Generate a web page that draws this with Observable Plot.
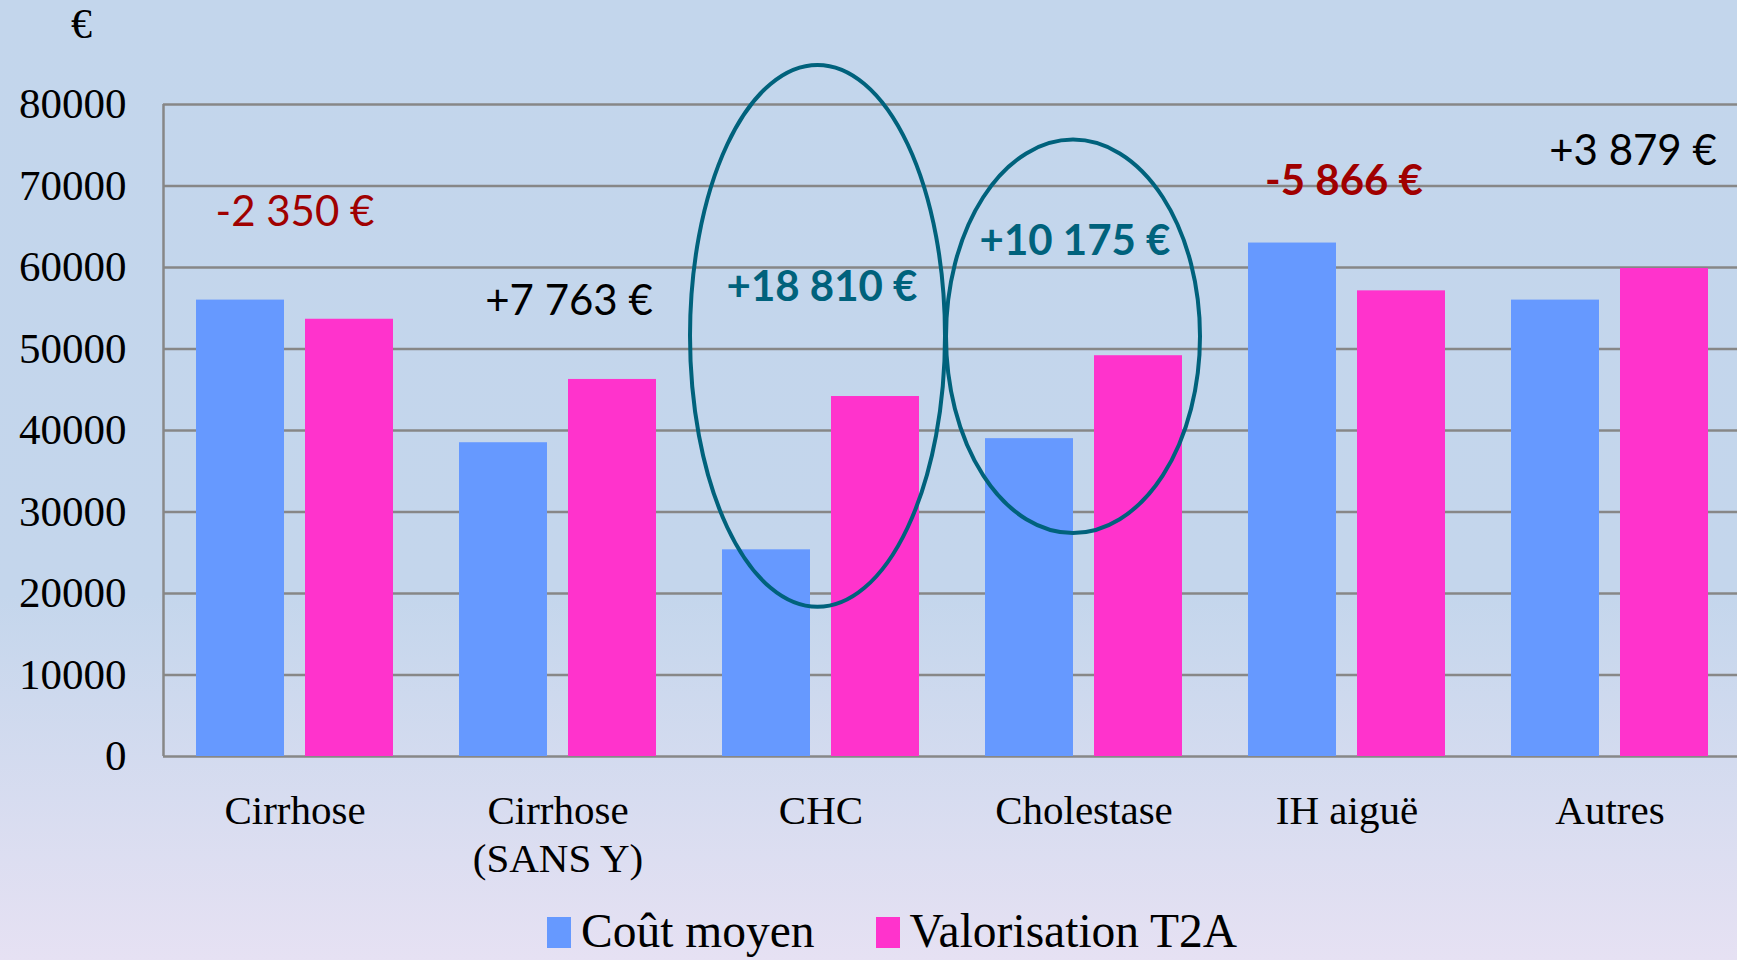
<!DOCTYPE html>
<html>
<head>
<meta charset="utf-8">
<script src="https://cdn.jsdelivr.net/npm/d3@7"></script>
<script src="https://cdn.jsdelivr.net/npm/@observablehq/plot@0.6"></script>
<style>
  html, body { margin: 0; padding: 0; }
  body {
    width: 1737px; height: 960px; overflow: hidden; color: #000;
    background: linear-gradient(to bottom, #c3d6ec 0%, #c4d6ec 62%, #e6e1f3 100%);
  }
  #chart svg { max-width: none !important; }
  #legend {
    height: 60px; display: flex; align-items: center; padding-left: 547px; padding-top: 4px; box-sizing: border-box;
    font-family: "Liberation Serif", "Times New Roman", serif; font-size: 47.5px; line-height: 1; white-space: nowrap;
  }
  #legend .item { display: flex; align-items: center; margin-right: 61px; }
  #legend .sw { display: inline-block; width: 24px; height: 31px; margin-right: 10px; }
</style>
</head>
<body>
<div id="chart"></div>
<div id="legend"></div>
<script>
// ---- data ----
const categories = ["Cirrhose", "Cirrhose\n(SANS Y)", "CHC", "Cholestase", "IH aiguë", "Autres"];
const series = ["Coût moyen", "Valorisation T2A"];
const coutMoyen = [56000, 38500, 25360, 39000, 63000, 56000];
const valorisationT2A = [53650, 46263, 44170, 49175, 57134, 59879];
const differences = [-2350, 7763, 18810, 10175, -5866, 3879];
const yTicks = [0, 10000, 20000, 30000, 40000, 50000, 60000, 70000, 80000];
const highlighted = ["CHC", "Cholestase"];

// ---- layout / style (not data) ----
const colors = ["#6699ff", "#ff33cc"];
const teal = "#00627c", darkRed = "#a00000", gridGray = "#878787";
const labelLayout = [
  {y: 66800, dx: 0,   fill: darkRed, weight: "normal"},
  {y: 55830, dx: 11,  fill: "#000",  weight: "normal"},
  {y: 57550, dx: 1,   fill: teal,    weight: "bold"},
  {y: 63130, dx: -9,  fill: teal,    weight: "bold"},
  {y: 70600, dx: -3,  fill: darkRed, weight: "bold"},
  {y: 74270, dx: 23,  fill: "#000",  weight: "normal"}
];
const ellipseLayout = [
  {y1: 18300, y2: 84800, insetLeft: 1, insetRight: 7},
  {y1: 27360, y2: 75630, insetLeft: -6, insetRight: 15}
];

const W = 1743, H = 900, mL = 161, mR = 0, mT = 104, mB = 144;
const facetW = (W - mL - mR) / categories.length;
const padInner = 0.1916, padOuter = 0.298;
const step = facetW / (series.length - padInner + 2 * padOuter);
const firstBandCenter = padOuter * step + (1 - padInner) * step / 2;
const yMax = 80000;
const k = (H - mT - mB) / yMax;

const data = categories.flatMap((c, i) => [
  {cat: c, series: series[0], value: coutMoyen[i]},
  {cat: c, series: series[1], value: valorisationT2A[i]}
]);

const fmt = d => (d > 0 ? "+" : "-") + String(Math.abs(d)).replace(/\B(?=(\d{3})+(?!\d))/g, " ") + " €";

const labelMarks = differences.map((d, i) => {
  const L = labelLayout[i];
  return Plot.text([{cat: categories[i], y: L.y, label: fmt(d)}], {
    fx: "cat", y: "y", text: "label", dx: L.dx,
    fill: L.fill, fontWeight: L.weight, fontSize: 42, fontFamily: "Lato, 'Open Sans', sans-serif"
  });
});

const ellipseMarks = highlighted.map((c, i) => {
  const E = ellipseLayout[i];
  const rx = (facetW - E.insetLeft - E.insetRight) / 2;
  const ry = (E.y2 - E.y1) * k / 2;
  return Plot.rect([{cat: c, y1: E.y1, y2: E.y2}], {
    fx: "cat", y1: "y1", y2: "y2", rx, ry,
    insetLeft: E.insetLeft, insetRight: E.insetRight,
    fill: "none", stroke: teal, strokeWidth: 4
  });
});

const chart = Plot.plot({
  width: W, height: H,
  marginLeft: mL, marginRight: mR, marginTop: mT, marginBottom: mB,
  style: {background: "transparent", overflow: "visible", color: "#000", maxWidth: "none"},
  fx: {domain: categories, padding: 0, axis: null},
  x: {domain: series, paddingInner: padInner, paddingOuter: padOuter, axis: null},
  y: {domain: [0, yMax], axis: null},
  color: {domain: series, range: colors},
  marks: [
    Plot.gridY(yTicks, {stroke: gridGray, strokeOpacity: 1, strokeWidth: 2.5}),
    Plot.ruleX([categories[0]], {fx: d => d, x: () => series[0], dx: -firstBandCenter, y1: 0, y2: yMax, stroke: gridGray, strokeWidth: 2.5}),
    Plot.axisY(yTicks, {anchor: "left", tickSize: 0, tickPadding: 37, fontSize: 43, fontFamily: "'Liberation Serif', serif", label: null, tickFormat: d => String(d)}),
    Plot.barY(data, {fx: "cat", x: "series", y: "value", fill: "series"}),
    ...ellipseMarks,
    ...labelMarks,
    Plot.text(categories, {fx: d => d, text: d => d, frameAnchor: "bottom", lineAnchor: "top", dy: 33, lineHeight: 1.17, fontSize: 41, fontFamily: "'Liberation Serif', serif", fill: "#000"}),
    Plot.text(["€"], {fx: () => categories[0], text: d => d, frameAnchor: "top-left", textAnchor: "middle", lineAnchor: "middle", dx: -82, dy: -80, fontSize: 42, fontFamily: "'Liberation Serif', serif", fill: "#000"})
  ]
});
document.getElementById("chart").appendChild(chart);

const legend = document.getElementById("legend");
series.forEach((s, i) => {
  const item = document.createElement("span");
  item.className = "item";
  const sw = document.createElement("span");
  sw.className = "sw";
  sw.style.background = colors[i];
  const t = document.createElement("span");
  t.textContent = s;
  item.appendChild(sw);
  item.appendChild(t);
  legend.appendChild(item);
});
</script>
</body>
</html>
